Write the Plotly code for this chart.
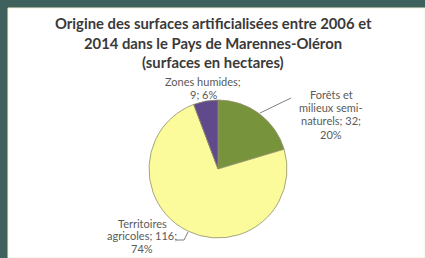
import plotly.graph_objects as go

categories = ["Forêts et milieux semi-naturels", "Territoires agricoles", "Zones humides"]
values = [32, 116, 9]
label_lines = [["Forêts et", "milieux semi-", "naturels; {v};", "{p}%"],
               ["Territoires", "agricoles; {v};", "{p}%"],
               ["Zones humides;", "{v}; {p}%"]]
colors = ["#77933c", "#fbfb9c", "#614a8c"]
title_lines = ["Origine des surfaces artificialisées entre 2006 et",
               "2014 dans le Pays de Marennes-Oléron",
               "(surfaces en hectares)"]

W, H = 425, 258
cx, cy, r = 218, 169, 69

total = sum(values)
pcts = [round(v / total * 100) for v in values]

fig = go.Figure(go.Pie(
    labels=categories, values=values, sort=False, direction="clockwise",
    rotation=0, marker=dict(colors=colors, line=dict(color="#8f8f6a", width=0.8)),
    textinfo="none", hoverinfo="label+value+percent", showlegend=False,
    domain=dict(x=[(cx - r) / W, (cx + r) / W], y=[(H - cy - r) / H, (H - cy + r) / H]),
))

def px(x):
    return x / W

def py(y):
    return 1 - y / H

shapes = [
    dict(type="rect", xref="paper", yref="paper", x0=px(8), x1=1.0, y0=0, y1=py(8),
         fillcolor="#ffffff", line=dict(color="#f3f3d8", width=1), layer="below"),
    dict(type="line", xref="paper", yref="paper", x0=px(260), y0=py(113), x1=px(291), y1=py(98),
         line=dict(color="#7f7f7f", width=1)),
    dict(type="path", xref="paper", yref="paper",
         path=f"M {px(176)} {py(240)} L {px(184)} {py(240)} L {px(188)} {py(232)}",
         line=dict(color="#7f7f7f", width=1)),
]

annotations = []
title_y = [23, 43, 62]
for t, ty in zip(title_lines, title_y):
    annotations.append(dict(text=f"<b>{t}</b>", x=px(213), y=py(ty), xref="paper", yref="paper",
                            xanchor="center", yanchor="middle", showarrow=False,
                            font=dict(family="Lato", size=14.8, color="#3a3a3a")))

label_pos = [(331, 94, 13.5), (142, 223, 12.5), (203, 81, 13)]
for lines, v, p, (lx, ly, step) in zip(label_lines, values, pcts, label_pos):
    for j, l in enumerate(lines):
        annotations.append(dict(text=l.format(v=v, p=p), x=px(lx), y=py(ly + j * step),
                                xref="paper", yref="paper", xanchor="center", yanchor="middle",
                                showarrow=False,
                                font=dict(family="Lato", size=11, color="#5a5a5a")))

fig.update_layout(width=W, height=H, margin=dict(l=0, r=0, t=0, b=0),
                  paper_bgcolor="#3e615d", plot_bgcolor="#ffffff",
                  shapes=shapes, annotations=annotations)
fig.write_html("out.html", config={"displayModeBar": False},
               post_script="document.body.style.margin='0';document.body.style.overflow='hidden';")
